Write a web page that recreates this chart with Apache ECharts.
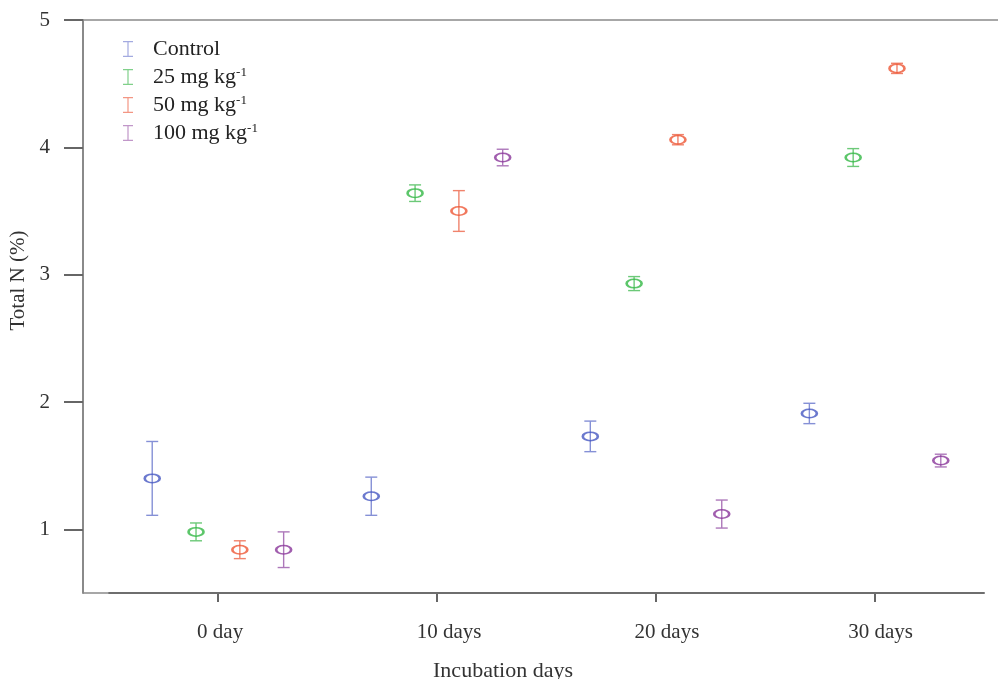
<!DOCTYPE html>
<html>
<head>
<meta charset="utf-8">
<script src="https://cdn.jsdelivr.net/npm/echarts@6/dist/echarts.min.js"></script>
<style>html,body{margin:0;padding:0;background:#fff}#c{width:998px;height:679px}</style>
</head>
<body>
<div id="c"></div>
<script>
// ---- data ----
const categories = ['0 day', '10 days', '20 days', '30 days'];
const categoryDays = [0, 10, 20, 30];
const labelDays = [0.1, 10.55, 20.5, 30.25];
const groups = ['Control', '25 mg kg-1', '50 mg kg-1', '100 mg kg-1'];
const groupOffsets = [-3, -1, 1, 3];
const controlMean = [1.40, 1.26, 1.73, 1.91];
const controlErr  = [0.29, 0.15, 0.12, 0.08];
const n25Mean = [0.98, 3.64, 2.93, 3.92];
const n25Err  = [0.07, 0.065, 0.055, 0.07];
const n50Mean = [0.84, 3.50, 4.06, 4.62];
const n50Err  = [0.07, 0.16, 0.04, 0.04];
const n100Mean = [0.84, 3.92, 1.12, 1.54];
const n100Err  = [0.14, 0.065, 0.11, 0.05];
const yTicks = [1, 2, 3, 4, 5];

const means = [controlMean, n25Mean, n50Mean, n100Mean];
const errs = [controlErr, n25Err, n50Err, n100Err];
const markerColors = ['#4658c2', '#33b845', '#ee5634', '#89369a'];
const barColors = ['#8590d6', '#6cc978', '#f0836c', '#ad78ba'];
const legendColors = ['#a3aae0', '#80d08a', '#f39684', '#c197c9'];

const X_MIN = -6.16, X_MAX = 35.84, Y_MIN = 0.5, Y_MAX = 5;
const FONT = '"Liberation Serif", "Times New Roman", serif';
const ellipsePath = 'path://M0,5C0,2.2,3.6,0,8,0C12.4,0,16,2.2,16,5C16,7.8,12.4,10,8,10C3.6,10,0,7.8,0,5Z';
const iPath = 'path://M0,0L10,0L10,1.2L5.6,1.2L5.6,14.8L10,14.8L10,16L0,16L0,14.8L4.4,14.8L4.4,1.2L0,1.2Z';

const series = [];
groups.forEach((g, gi) => {
  const pts = categoryDays.map((d, i) => [d + groupOffsets[gi], means[gi][i], errs[gi][i]]);
  series.push({
    name: g, type: 'custom', z: 3,
    data: pts,
    renderItem: function (params, api) {
      const x = api.value(0), y = api.value(1), e = api.value(2);
      const lo = api.coord([x, y - e]);
      const hi = api.coord([x, y + e]);
      const hw = 6;
      const style = { stroke: barColors[gi], lineWidth: 1.4 };
      return {
        type: 'group',
        children: [
          { type: 'line', shape: { x1: lo[0], y1: lo[1], x2: hi[0], y2: hi[1] }, style: style },
          { type: 'line', shape: { x1: lo[0] - hw, y1: lo[1], x2: lo[0] + hw, y2: lo[1] }, style: style },
          { type: 'line', shape: { x1: hi[0] - hw, y1: hi[1], x2: hi[0] + hw, y2: hi[1] }, style: style }
        ]
      };
    }
  });
  series.push({
    name: g, type: 'scatter', z: 4,
    data: pts.map(p => [p[0], p[1]]),
    symbol: ellipsePath,
    symbolSize: [15, 8.5],
    itemStyle: { color: 'rgba(255,255,255,0)', borderColor: markerColors[gi], borderWidth: 2 },
    emphasis: { disabled: true }
  });
});
// box bottom edge and R-style axis line (from first to last axis range value)
series.push({
  name: 'box', type: 'line', silent: true, clip: false, symbol: 'none', z: 1,
  data: [[X_MIN, Y_MIN], [35, Y_MIN]],
  lineStyle: { color: '#8a8a8a', width: 1.5 }
});
series.push({
  name: 'axis', type: 'line', silent: true, clip: false, symbol: 'none', z: 1,
  data: [[-5, Y_MIN], [35, Y_MIN]],
  lineStyle: { color: '#6e6e6e', width: 2.2 }
});

const chart = echarts.init(document.getElementById('c'));
chart.setOption({
  animation: false,
  backgroundColor: '#fff',
  grid: {
    left: 83, top: 20, right: -5, bottom: 86,
    outerBoundsMode: 'none', containLabel: false, show: false
  },
  legend: {
    left: 118, top: 33, orient: 'vertical',
    itemWidth: 40, itemHeight: 16, itemGap: 6,
    data: groups.map((g, gi) => ({ name: g, icon: iPath, itemStyle: { color: legendColors[gi] } })),
    formatter: function (name) {
      const m = name.match(/^(.*kg)(-1)$/);
      return m ? '{a|' + m[1] + '}{b|' + m[2] + '}' : '{a|' + name + '}';
    },
    textStyle: {
      rich: {
        a: { fontFamily: FONT, fontSize: 22, color: '#222', lineHeight: 22 },
        b: { fontFamily: FONT, fontSize: 13, color: '#222', lineHeight: 13, verticalAlign: 'top' }
      }
    },
    selectedMode: false
  },
  xAxis: [{
    type: 'value', min: X_MIN, max: X_MAX,
    axisLine: { show: false, onZero: false },
    axisTick: { show: true, customValues: categoryDays, length: 9, lineStyle: { color: '#666', width: 2 } },
    axisLabel: {
      customValues: labelDays, margin: 29,
      fontFamily: FONT, fontSize: 21, color: '#333',
      formatter: function (v) { const i = labelDays.indexOf(v); return i >= 0 ? categories[i] : ''; }
    },
    splitLine: { show: false },
    name: 'Incubation days', nameLocation: 'middle', nameGap: 67,
    nameTextStyle: { fontFamily: FONT, fontSize: 22, color: '#333', padding: [0, 80, 0, 0] }
  }, {
    type: 'value', position: 'top', min: X_MIN, max: X_MAX,
    axisLine: { show: true, onZero: false, lineStyle: { color: '#8a8a8a', width: 1.5 } },
    axisTick: { show: false }, axisLabel: { show: false }, splitLine: { show: false }
  }],
  yAxis: {
    type: 'value', min: Y_MIN, max: Y_MAX,
    axisLine: { show: true, onZero: false, lineStyle: { color: '#8a8a8a', width: 2 } },
    axisTick: { show: true, customValues: yTicks, length: 19, lineStyle: { color: '#666', width: 2 } },
    axisLabel: { customValues: yTicks, margin: 33, fontFamily: FONT, fontSize: 21, color: '#333' },
    splitLine: { show: false },
    name: 'Total N (%)', nameLocation: 'middle', nameGap: 43,
    nameTextStyle: { fontFamily: FONT, fontSize: 21, color: '#333', padding: [0, 0, 0, 52] }
  },
  series: series
});
</script>
</body>
</html>
